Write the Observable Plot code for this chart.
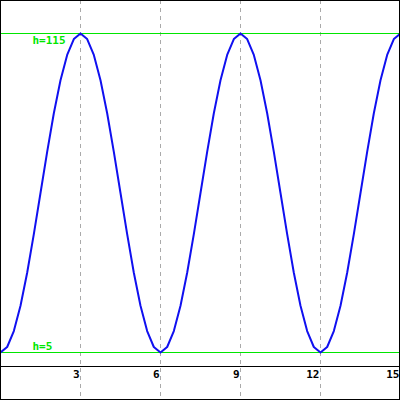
<!DOCTYPE html>
<html>
<head>
<meta charset="utf-8">
<script src="https://cdn.jsdelivr.net/npm/d3@7"></script>
<script src="https://cdn.jsdelivr.net/npm/@observablehq/plot@0.6"></script>
<style>
  html, body { margin: 0; padding: 0; background: #fff; }
  svg { display: block; }
</style>
</head>
<body>
<div id="chart"></div>
<script>
// Time samples (every 0.25) and height values
const times = [
  0, 0.25, 0.5, 0.75, 1, 1.25, 1.5, 1.75, 2, 2.25, 2.5, 2.75,
  3, 3.25, 3.5, 3.75, 4, 4.25, 4.5, 4.75, 5, 5.25, 5.5, 5.75,
  6, 6.25, 6.5, 6.75, 7, 7.25, 7.5, 7.75, 8, 8.25, 8.5, 8.75,
  9, 9.25, 9.5, 9.75, 10, 10.25, 10.5, 10.75, 11, 11.25, 11.5, 11.75,
  12, 12.25, 12.5, 12.75, 13, 13.25, 13.5, 13.75, 14, 14.25, 14.5, 14.75, 15
];
const heights = [
  5, 6.9, 12.4, 21.1, 32.5, 45.8, 60, 74.2, 87.5, 98.9, 107.6, 113.1,
  115, 113.1, 107.6, 98.9, 87.5, 74.2, 60, 45.8, 32.5, 21.1, 12.4, 6.9,
  5, 6.9, 12.4, 21.1, 32.5, 45.8, 60, 74.2, 87.5, 98.9, 107.6, 113.1,
  115, 113.1, 107.6, 98.9, 87.5, 74.2, 60, 45.8, 32.5, 21.1, 12.4, 6.9,
  5, 6.9, 12.4, 21.1, 32.5, 45.8, 60, 74.2, 87.5, 98.9, 107.6, 113.1, 115
];
const xTicks = [3, 6, 9, 12, 15];
const refLevels = [115, 5];
const refLabels = ["h=115", "h=5"];
const refLabelDy = [6.5, -6];

const green = "#00e600";
const points = times.map((t, i) => ({t, h: heights[i]}));
const refs = refLevels.map((h, i) => ({h, label: refLabels[i], dy: refLabelDy[i]}));

const chart = Plot.plot({
  width: 400,
  height: 400,
  margin: 0,
  style: { background: "#fff", fontFamily: "DejaVu Sans Mono, monospace" },
  x: { domain: [0, 15], range: [0, 400], axis: null },
  y: { domain: [0, 126.38], range: [366.5, 0], axis: null },
  marks: [
    Plot.ruleX(xTicks, { stroke: "#aaaaaa", strokeDasharray: "4,4", strokeWidth: 1 }),
    Plot.ruleY(refLevels, { stroke: green, strokeWidth: 1 }),
    Plot.ruleY([0], { stroke: "#000", strokeWidth: 1, dy: -0.5 }),
    Plot.line(points, { x: "t", y: "h", stroke: "#1010f0", strokeWidth: 2 }),
    Plot.text(refs.filter(d => d.dy > 0), {
      y: "h", text: "label", frameAnchor: "left", dx: 32, dy: 6.5,
      textAnchor: "start", fill: green, fontSize: 11, fontWeight: "bold"
    }),
    Plot.text(refs.filter(d => d.dy < 0), {
      y: "h", text: "label", frameAnchor: "left", dx: 32, dy: -6,
      textAnchor: "start", fill: green, fontSize: 11, fontWeight: "bold"
    }),
    Plot.text(xTicks, {
      x: d => d, y: -2.6, text: d => String(d), textAnchor: "end", dx: -1,
      fill: "#000", fontSize: 11, fontWeight: "bold"
    }),
    Plot.frame({ stroke: "#000", insetLeft: 0, insetTop: 0, insetRight: 1, insetBottom: 1 })
  ]
});
document.getElementById("chart").appendChild(chart);
</script>
</body>
</html>
